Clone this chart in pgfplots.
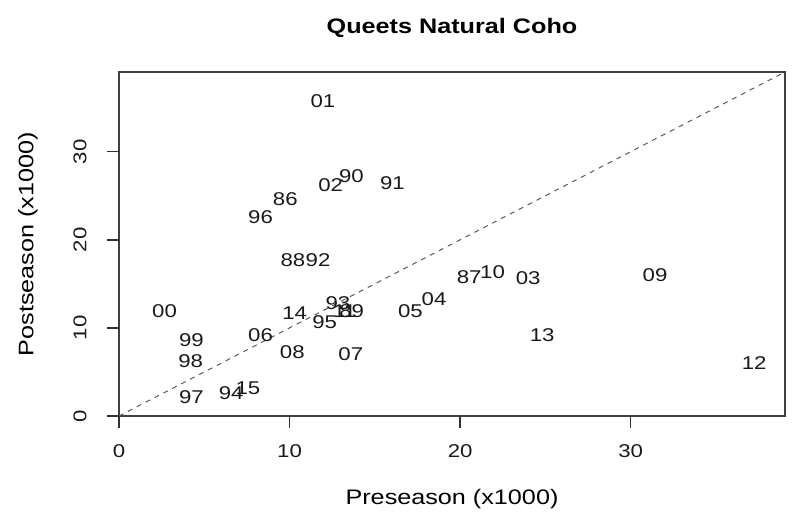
\documentclass[border=0pt]{standalone}
\usepackage{pgfplots}
\pgfplotsset{compat=1.18}
\usepackage{fontspec}
\setmainfont[FakeStretch=1.2]{Liberation Sans}
\begin{document}
\begin{tikzpicture}
\path[use as bounding box] (0,0) rectangle (793bp,516bp);
\begin{axis}[
  at={(119bp,100bp)}, anchor=south west,
  scale only axis, width=666bp, height=344bp,
  xmin=0, xmax=39.05, ymin=0, ymax=39.05,
  xtick={0,10,20,30}, ytick={0,10,20,30},
  xtick pos=bottom, ytick pos=left,
  tick align=outside, major tick length=12bp,
  major tick style={black!80, line width=1.5bp},
  axis line style={line width=1.2bp, black!75},
  /pgf/number format/assume math mode=true,
  ticklabel style={font=\fontsize{18.5bp}{22bp}\selectfont, text=black!90},
  xticklabel style={anchor=center, yshift=-23bp},
  yticklabel style={anchor=center, xshift=-27bp, rotate=90},
  title={Queets Natural Coho},
  title style={at={(axis description cs:0.5,1.111)}, anchor=center, font=\fontsize{21bp}{25bp}\selectfont\bfseries},
  xlabel={Preseason (x1000)},
  xlabel style={at={(axis description cs:0.5,-0.241)}, anchor=center, font=\fontsize{21bp}{25bp}\selectfont},
  ylabel={Postseason (x1000)},
  ylabel style={at={(axis description cs:-0.1366,0.5)}, anchor=center, font=\fontsize{21bp}{25bp}\selectfont},
  clip=false,
]
\addplot[black!65, line width=1bp, dash pattern=on 5bp off 5bp] coordinates {(0,0) (39.05,39.05)};
\addplot[only marks, mark=none, nodes near coords, point meta=explicit symbolic,
  every node near coord/.append style={anchor=center, inner sep=0pt, font=\fontsize{18.5bp}{22bp}\selectfont, text=black!90}]
  table[meta=lab] {
x y lab
9.75 24.60 86
20.53 15.81 87
10.20 17.71 88
13.64 11.92 89
13.63 27.24 90
16.03 26.48 91
11.67 17.71 92
12.84 12.79 93
6.58 2.58 94
12.06 10.70 95
8.30 22.62 96
4.25 2.16 97
4.20 6.24 98
4.25 8.63 99
2.67 11.92 00
11.96 35.79 01
12.41 26.22 02
23.99 15.70 03
18.47 13.28 04
17.09 11.92 05
8.30 9.16 06
13.59 7.04 07
10.16 7.30 08
31.43 16.00 09
21.90 16.38 10
13.23 11.92 11
37.24 6.05 12
24.81 9.19 13
10.30 11.66 14
7.56 3.15 15
};
\pgfplotsinvokeforeach{0,10,20,30}{
  \draw[black!80, line width=1.5bp] (axis cs:#1,0) -- ++(0bp,-12bp);
  \draw[black!80, line width=1.5bp] (axis cs:0,#1) -- ++(-12bp,0bp);
}
\end{axis}
\end{tikzpicture}
\end{document}
